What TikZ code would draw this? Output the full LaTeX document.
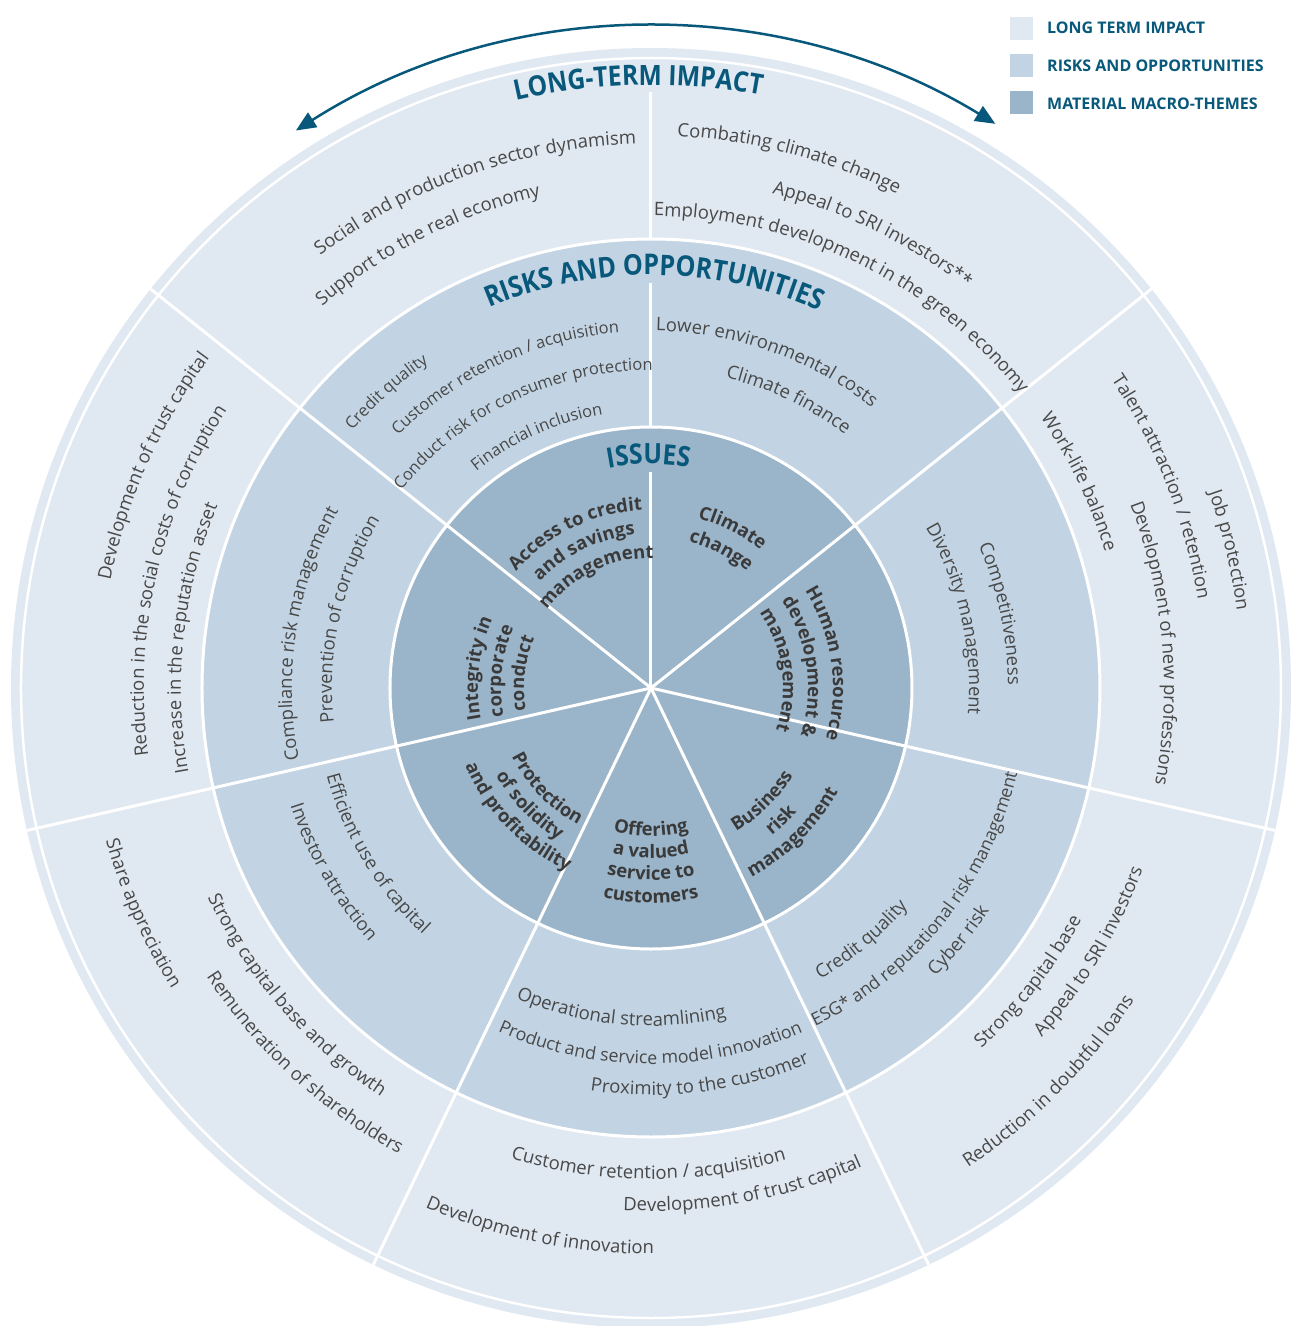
\documentclass[tikz,border=0pt]{standalone}
\usepackage{fontspec}
\setmainfont{Open Sans}
\newfontfamily\condf{Open Sans}[FakeStretch=0.88]
\usetikzlibrary{decorations.text,arrows.meta}
\definecolor{ltc}{HTML}{E0E8F1}
\definecolor{mdc}{HTML}{C2D4E3}
\definecolor{dkc}{HTML}{9AB4C9}
\definecolor{ttl}{HTML}{07587A}
\definecolor{txt}{HTML}{484848}
\definecolor{btxt}{HTML}{3A3A3A}
\newcommand\bodyfs{\fontsize{18.5}{21}\selectfont}
\newcommand\bodymd{\fontsize{17.8}{20}\selectfont}
\newcommand\bodysm{\fontsize{16.5}{19}\selectfont}
\newcommand\boldfs{\fontsize{18.5}{21}\selectfont\bfseries}
\newcommand\ltfs{\condf\fontsize{28}{30}\selectfont\bfseries}
\newcommand\rofs{\condf\fontsize{28.5}{30}\selectfont\bfseries}
\newcommand\isfs{\condf\fontsize{28}{30}\selectfont\bfseries}
\newcommand\legfs{\fontsize{16}{18}\selectfont\bfseries}
% clockwise text (tops outward): radius, centre angle, colour, font, text
\newcommand\cwt[5]{\path[decorate,decoration={text along path,text align=center,text color=#3,text={|#4|#5}}] (#2+85:#1) arc[start angle=#2+85,end angle=#2-85,radius=#1];}
% counter-clockwise text (tops inward)
\newcommand\ccwt[5]{\path[decorate,decoration={text along path,text align=center,text color=#3,text={|#4|#5}}] (#2-85:#1) arc[start angle=#2-85,end angle=#2+85,radius=#1];}
\tikzset{
  spoke/.style={white,line width=3},
  ring/.style={white,line width=3},
  legsq/.style={minimum size=23,inner sep=0,anchor=north west},
  legtx/.style={anchor=base west,font=\legfs,text=ttl,inner sep=0}
}
\begin{document}
\begin{tikzpicture}[x=1pt,y=1pt]
\useasboundingbox (-651,-638) rectangle (642,688);
% discs
\fill[ltc] (0,0) circle[radius=640];
\fill[mdc] (0,0) circle[radius=449];
\fill[dkc] (0,0) circle[radius=261];
% spokes
\foreach \a in {141.43,192.86,244.29,295.71,347.14,38.57}
  \draw[spoke] (0,0) -- (\a:640);
\draw[spoke] (0,0) -- (0,216);
\draw[spoke] (0,261) -- (0,405);
\draw[spoke] (0,449) -- (0,596);
% ring borders
\draw[ring] (0,0) circle[radius=261];
\draw[ring] (0,0) circle[radius=449];
\draw[white,line width=2.5] (0,0) circle[radius=630];
% arrow
\draw[ttl,line width=2.5,{Triangle[length=20pt,width=17pt]}-{Triangle[length=20pt,width=17pt]}]
  (122.5:661) arc[start angle=122.5,end angle=58.6,radius=661];
% titles
\cwt{603}{91.2}{ttl}{\ltfs}{LONG-TERM IMPACT}
\cwt{413}{89.5}{ttl}{\rofs}{RISKS AND OPPORTUNITIES}
\cwt{224}{90.6}{ttl}{\isfs}{ISSUES}
% ---- long-term impact ring
\cwt{544}{109.5}{txt}{\bodyfs}{Social and production sector dynamism}
\cwt{504}{116.7}{txt}{\bodyfs}{Support to the real economy}
\cwt{552}{75.4}{txt}{\bodyfs}{Combating climate change}
\cwt{509}{64}{txt}{\bodyfs}{Appeal to SRI investors**}
\cwt{472}{64.1}{txt}{\bodyfs}{Employment development in the green economy}
\cwt{591}{13.4}{txt}{\bodyfs}{Job protection}
\cwt{554}{21.5}{txt}{\bodyfs}{Talent attraction / retention}
\cwt{513}{5.1}{txt}{\bodyfs}{Development of new professions}
\cwt{474}{25.7}{txt}{\bodyfs}{Work-life balance}
\cwt{551}{156}{txt}{\bodyfs}{Development of trust capital}
\cwt{507}{167.2}{txt}{\bodyfs}{Reduction in the social costs of corruption}
\cwt{470}{173.8}{txt}{\bodyfs}{Increase in the reputation asset}
\ccwt{489}{-37.9}{txt}{\bodyfs}{Strong capital base}
\ccwt{524}{-31}{txt}{\bodyfs}{Appeal to SRI investors}
\ccwt{575}{-44.7}{txt}{\bodyfs}{Reduction in doubtful loans}
\ccwt{491}{-90.3}{txt}{\bodyfs}{Customer retention / acquisition}
\ccwt{523}{-79.6}{txt}{\bodyfs}{Development of trust capital}
\ccwt{566}{-101.6}{txt}{\bodyfs}{Development of innovation}
\ccwt{566}{203.9}{txt}{\bodyfs}{Share appreciation}
\ccwt{490}{220.9}{txt}{\bodyfs}{Strong capital base and growth}
\ccwt{530}{227.3}{txt}{\bodyfs}{Remuneration of shareholders}
% ---- risks and opportunities ring
\cwt{394}{131.8}{txt}{\bodysm}{Credit quality}
\cwt{357}{115.1}{txt}{\bodysm}{Customer retention / acquisition}
\cwt{318}{115.7}{txt}{\bodysm}{Conduct risk for consumer protection}
\cwt{278}{114.4}{txt}{\bodysm}{Financial inclusion}
\cwt{357}{70.5}{txt}{\bodyfs}{Lower environmental costs}
\cwt{319}{64.5}{txt}{\bodyfs}{Climate finance}
\cwt{357}{12}{txt}{\bodyfs}{Competitiveness}
\cwt{318}{12.8}{txt}{\bodyfs}{Diversity management}
\cwt{359}{171}{txt}{\bodyfs}{Compliance risk management}
\cwt{319}{167.2}{txt}{\bodyfs}{Prevention of corruption}
\ccwt{337}{-50.1}{txt}{\bodyfs}{Credit quality}
\ccwt{376}{-38.6}{txt}{\bodymd}{ESG* and reputational risk management}
\ccwt{405}{-39.4}{txt}{\bodyfs}{Cyber risk}
\ccwt{338}{-95.3}{txt}{\bodyfs}{Operational streamlining}
\ccwt{376}{-90.1}{txt}{\bodymd}{Product and service model innovation}
\ccwt{407}{-82.8}{txt}{\bodyfs}{Proximity to the customer}
\ccwt{336}{211.2}{txt}{\bodyfs}{Efficient use of capital}
\ccwt{379}{210}{txt}{\bodyfs}{Investor attraction}
% ---- issues
\cwt{178}{116}{btxt}{\boldfs}{Access to credit}
\cwt{154}{116}{btxt}{\boldfs}{and savings}
\cwt{130}{116}{btxt}{\boldfs}{management}
\cwt{176}{63}{btxt}{\boldfs}{Climate}
\cwt{151}{63}{btxt}{\boldfs}{change}
\cwt{182}{8}{btxt}{\boldfs}{Human resource}
\cwt{157}{8}{btxt}{\boldfs}{development {\&}}
\cwt{132}{8}{btxt}{\boldfs}{management}
\ccwt{167}{-45.5}{btxt}{\boldfs}{Business}
\ccwt{191}{-45.5}{btxt}{\boldfs}{risk}
\ccwt{214}{-45.5}{btxt}{\boldfs}{management}
\ccwt{148}{-90}{btxt}{\boldfs}{Offering}
\ccwt{170}{-90}{btxt}{\boldfs}{a valued}
\ccwt{192}{-90}{btxt}{\boldfs}{service to}
\ccwt{215}{-90}{btxt}{\boldfs}{customers}
\ccwt{155}{224}{btxt}{\boldfs}{Protection}
\ccwt{178}{224}{btxt}{\boldfs}{of solidity}
\ccwt{201}{224}{btxt}{\boldfs}{and profitability}
\cwt{173}{173.5}{btxt}{\boldfs}{Integrity in}
\cwt{150}{173.5}{btxt}{\boldfs}{corporate}
\cwt{127}{173.5}{btxt}{\boldfs}{conduct}
% legend
\node[legsq,fill=ltc] (sq1) at (359,671) {};
\node[legsq,fill=mdc] (sq2) at (359,634) {};
\node[legsq,fill=dkc] (sq3) at (359,597) {};
\node[legtx] (lg1) at (396,654) {LONG TERM IMPACT};
\node[legtx] (lg2) at (396,616.3) {RISKS AND OPPORTUNITIES};
\node[legtx] (lg3) at (396,578.7) {MATERIAL MACRO-THEMES};
\end{tikzpicture}
\end{document}
